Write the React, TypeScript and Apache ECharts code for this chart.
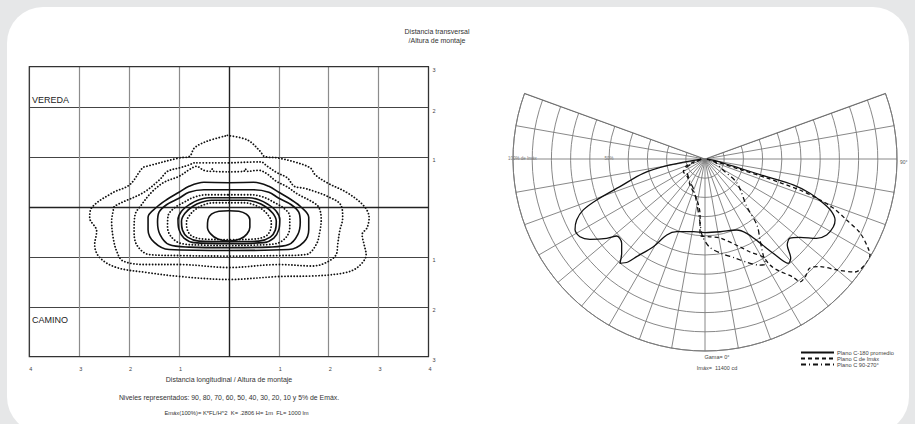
import React, { useEffect, useRef } from "react";
import * as echarts from "echarts";

// ---------- Isolux diagram data (x, y in units of mounting height) ----------
const xTickLabels = ["4", "3", "2", "1", "", "1", "2", "3", "4"];
const yTickValues = [-3, -2, -1, 0, 1, 2, 2.82];
const yTickLabels = ["3", "2", "1", "", "1", "2", "3"];

const c05 = [[-0.03,1.44],[0.37,1.35],[0.63,1.12],[0.71,1.02],[0.97,0.99],[1.31,0.91],[1.63,0.79],[1.73,0.65],[1.97,0.49],[2.37,0.29],[2.71,0.02],[2.81,-0.21],[2.77,-0.41],[2.67,-0.55],[2.71,-0.75],[2.75,-0.95],[2.61,-1.18],[2.35,-1.31],[1.67,-1.38],[1.01,-1.39],[0.01,-1.45],[-0.99,-1.39],[-1.65,-1.31],[-2.25,-1.21],[-2.59,-1.01],[-2.69,-0.75],[-2.65,-0.48],[-2.79,-0.21],[-2.75,-0.01],[-2.33,0.29],[-1.99,0.45],[-1.73,0.79],[-1.65,0.82],[-0.99,0.99],[-0.79,1.02],[-0.69,1.19],[-0.45,1.32],[-0.03,1.44]];
const c10 = [[0,0.89],[0.64,0.91],[0.77,0.82],[0.97,0.69],[1.17,0.59],[1.31,0.42],[1.51,0.38],[1.71,0.32],[1.97,0.22],[2.24,0.05],[2.28,-0.21],[2.22,-0.48],[2.18,-0.75],[2.15,-0.95],[1.95,-1.11],[1.68,-1.18],[1.01,-1.15],[0.01,-1.21],[-0.99,-1.15],[-1.65,-1.15],[-2.12,-1.08],[-2.25,-0.88],[-2.32,-0.61],[-2.35,-0.28],[-2.32,-0.08],[-2.29,0.02],[-1.72,0.29],[-1.39,0.55],[-1.23,0.72],[-0.99,0.79],[-0.79,0.85],[-0.69,0.89],[0,0.89]];
const c20 = [[0,0.71],[0.3,0.72],[0.33,0.77],[0.36,0.72],[0.6,0.74],[0.75,0.68],[0.95,0.52],[1.15,0.42],[1.4,0.25],[1.65,0.12],[1.8,0.0],[1.85,-0.25],[1.82,-0.5],[1.75,-0.75],[1.55,-0.95],[1.0,-0.97],[0,-0.98],[-1.0,-0.97],[-1.6,-0.95],[-1.85,-0.75],[-1.9,-0.45],[-1.88,-0.15],[-1.75,0.05],[-1.55,0.3],[-1.3,0.5],[-1.0,0.62],[-0.8,0.75],[-0.65,0.82],[-0.5,0.74],[-0.36,0.72],[-0.33,0.77],[-0.3,0.72],[0,0.71]];
const c30 = [[0,0.49],[0.5,0.5],[0.8,0.42],[1.0,0.3],[1.25,0.15],[1.45,0.0],[1.6,-0.2],[1.6,-0.45],[1.5,-0.7],[1.2,-0.85],[0,-0.87],[-1.2,-0.85],[-1.5,-0.7],[-1.62,-0.45],[-1.62,-0.2],[-1.45,0.0],[-1.25,0.15],[-1.0,0.3],[-0.8,0.42],[-0.5,0.5],[0,0.49]];
const c40 = [[0,0.35],[0.5,0.35],[0.8,0.3],[1.0,0.18],[1.25,0.05],[1.4,-0.1],[1.43,-0.3],[1.38,-0.55],[1.2,-0.75],[0.8,-0.8],[0,-0.81],[-0.8,-0.8],[-1.2,-0.75],[-1.38,-0.55],[-1.43,-0.3],[-1.4,-0.1],[-1.25,0.05],[-1.0,0.18],[-0.8,0.3],[-0.5,0.35],[0,0.35]];
const c50 = [[0,0.25],[0.45,0.25],[0.7,0.2],[0.9,0.1],[1.1,-0.02],[1.22,-0.18],[1.22,-0.4],[1.15,-0.6],[0.95,-0.73],[0.5,-0.76],[0,-0.77],[-0.5,-0.76],[-0.95,-0.73],[-1.15,-0.6],[-1.23,-0.4],[-1.22,-0.18],[-1.1,-0.02],[-0.9,0.1],[-0.7,0.2],[-0.45,0.25],[0,0.25]];
const c60 = [[0,0.19],[0.4,0.19],[0.6,0.15],[0.78,0.06],[0.95,-0.08],[1.02,-0.25],[1.0,-0.45],[0.9,-0.62],[0.7,-0.71],[0,-0.73],[-0.7,-0.71],[-0.9,-0.62],[-1.0,-0.45],[-1.02,-0.25],[-0.95,-0.08],[-0.78,0.06],[-0.6,0.15],[-0.4,0.19],[0,0.19]];
const c70 = [[0,0.14],[0.35,0.14],[0.55,0.1],[0.72,0.02],[0.88,-0.12],[0.95,-0.28],[0.93,-0.46],[0.83,-0.6],[0.6,-0.68],[0,-0.69],[-0.6,-0.68],[-0.83,-0.6],[-0.93,-0.46],[-0.95,-0.28],[-0.88,-0.12],[-0.72,0.02],[-0.55,0.1],[-0.35,0.14],[0,0.14]];
const c80 = [[0,0.09],[0.3,0.09],[0.5,0.05],[0.65,-0.03],[0.78,-0.15],[0.85,-0.3],[0.83,-0.46],[0.74,-0.58],[0.5,-0.64],[0,-0.65],[-0.5,-0.64],[-0.74,-0.58],[-0.83,-0.46],[-0.85,-0.3],[-0.78,-0.15],[-0.65,-0.03],[-0.5,0.05],[-0.3,0.09],[0,0.09]];
const c90 = [[0,-0.07],[0.2,-0.08],[0.35,-0.14],[0.42,-0.25],[0.42,-0.4],[0.36,-0.54],[0.22,-0.64],[0,-0.68],[-0.22,-0.64],[-0.36,-0.54],[-0.43,-0.4],[-0.42,-0.25],[-0.35,-0.14],[-0.2,-0.08],[0,-0.07]];

const contourLevels = ["5%", "10%", "20%", "30%", "40%", "50%", "60%", "70%", "80%", "90%"];
const contourData = [c05, c10, c20, c30, c40, c50, c60, c70, c80, c90];
const contourDotted = [true, true, true, false, false, true, false, false, true, false];

// ---------- Polar diagram data: [gamma (deg), intensity (% of Imax)] ----------
const gammaLimits = [-110, 110];
const planoC180 = [[-88,2],[-80.3,18.5],[-76.9,33.0],[-72,46.6],[-69.3,60.3],[-67.3,68.7],[-64.6,74.0],[-61.4,77.1],[-58.1,76.7],[-55.1,73.1],[-51.1,65.8],[-48.9,61.0],[-44.7,61.7],[-41.5,65.5],[-39.2,70.1],[-36.8,67.0],[-35,62.1],[-30.5,53.0],[-26.7,44.3],[-21.3,40.6],[-9.1,38.3],[0,38.3],[11.7,38.7],[24.1,40.5],[29.3,44.4],[32.8,51.2],[35.9,60.6],[38.6,69.5],[40.9,68.2],[43.7,62.0],[47,60.5],[50.5,64.1],[54.6,71.3],[58,74.7],[62.2,75.6],[64.9,74.8],[67.4,71.5],[69.5,65.8],[71.9,57.5],[73.6,47.9],[74,33.4],[75.1,18.9],[80,6.2],[88,1]];
const planoCImax = [[-88,2],[-70,10],[-60,13],[-45,13],[-30,15.6],[-11,21.8],[-5,29.3],[-3.8,39.7],[3.7,40.6],[10.8,41.9],[21.7,49.3],[25.8,53.8],[30.6,59.3],[31.5,64.8],[33,68.9],[36.7,76.7],[37.7,80.9],[40.3,80.6],[43.9,78.8],[46.9,82],[49.9,89.7],[53,97.8],[57,100],[59.8,99.4],[61.4,96.7],[64.5,89.5],[66.7,80.3],[69.1,71.5],[70.7,61.6],[71.9,52],[72.9,33.6],[73.5,19],[76,6],[85,1]];
const planoC90 = [[-85,2],[-62,12],[-50,12],[-35,14],[-20,17],[-10,24],[-5,32],[-2,40],[3,46],[10,50],[17,54],[22,58],[27,62],[30,63],[31.5,57.5],[34.2,51],[38.2,43.8],[41.2,33.2],[53.1,20.8],[58.6,11],[75,5],[88,1]];

const polarNames = ["Plano C-180 promedio", "Plano C de Imáx", "Plano C 90-270°"];

export default function App() {
  const ref = useRef<HTMLDivElement>(null);
  useEffect(() => {
    if (!ref.current) return;
    const chart = echarts.init(ref.current, null, { renderer: "svg" });
    const font = "Liberation Sans, Arial, sans-serif";
    const txt = (x: number, y: number, text: string, size: number, align = "center", color = "#333") => ({
      type: "text",
      x,
      y,
      style: { text, fontSize: size, fontFamily: font, fill: color, align, verticalAlign: "middle" },
      silent: true,
    });

    const contourSeries = contourData.map((d, i) => ({
      type: "line",
      name: "Iso " + contourLevels[i],
      xAxisIndex: 0,
      yAxisIndex: 0,
      data: d,
      symbol: "none",
      smooth: 0.35,
      silent: true,
      color: "#111",
      lineStyle: contourDotted[i]
        ? { color: "#111", width: 1.8, type: [0.1, 3], cap: "round" }
        : { color: "#111", width: 1.6, type: "solid" },
      z: 5,
    }));

    const polarStyles = [
      { color: "#111", width: 1.3, type: "solid" },
      { color: "#111", width: 1.3, type: [4, 3] },
      { color: "#111", width: 1.3, type: [5, 3, 1, 3] },
    ];
    const polarSeries = [planoC180, planoCImax, planoC90].map((d, i) => ({
      type: "line",
      name: polarNames[i],
      coordinateSystem: "polar",
      polarIndex: 0,
      data: d.map((p) => [p[1], p[0]]),
      symbol: "none",
      smooth: 0.3,
      silent: true,
      color: "#111",
      itemStyle: { color: "#111" },
      lineStyle: polarStyles[i],
      z: 5,
    }));

    const boundarySeries = gammaLimits.map((g) => ({
      type: "line",
      name: "limite " + g,
      coordinateSystem: "polar",
      polarIndex: 0,
      data: [[0, g], [100, g]],
      symbol: "none",
      silent: true,
      color: "#666",
      lineStyle: { color: "#666", width: 1.3 },
      z: 3,
    }));

    chart.setOption({
      animation: false,
      backgroundColor: "#e6e7e8",
      textStyle: { fontFamily: font },
      grid: {
        left: 29.3,
        top: 66.7,
        width: 399.2,
        height: 290,
        show: true,
        borderColor: "#333",
        borderWidth: 1.2,
        backgroundColor: "transparent",
        z: 3,
      },
      xAxis: {
        type: "value",
        min: -4,
        max: 4,
        interval: 1,
        axisLine: { show: false },
        axisTick: { show: false },
        splitLine: { show: true, lineStyle: { color: "#8c8c8c", width: 1.2 } },
        axisLabel: {
          show: true,
          showMinLabel: true,
          showMaxLabel: true,
          formatter: (v: number) => xTickLabels[Math.round(v) + 4],
          fontSize: 5.5,
          color: "#444",
          align: "left",
          margin: 9,
        },
      },
      yAxis: {
        type: "value",
        position: "right",
        min: -3,
        max: 2.82,
        interval: 1,
        axisLine: { show: false },
        axisTick: { show: false },
        splitLine: { show: true, lineStyle: { color: "#444", width: 1.2 } },
        axisLabel: {
          show: true,
          showMinLabel: true,
          showMaxLabel: true,
          formatter: (v: number) => {
            let best = 0;
            yTickValues.forEach((t, i) => {
              if (Math.abs(t - v) < Math.abs(yTickValues[best] - v)) best = i;
            });
            return yTickLabels[best];
          },
          fontSize: 5.5,
          color: "#444",
          verticalAlign: "top",
          align: "left",
          margin: 4,
        },
      },
      polar: { center: [705, 159], radius: [0, 192] },
      angleAxis: {
        type: "value",
        min: gammaLimits[0],
        max: gammaLimits[1],
        interval: 10,
        startAngle: 160,
        endAngle: 380,
        clockwise: false,
        axisLine: { show: true, lineStyle: { color: "#7a7a7a", width: 1 } },
        axisTick: { show: false },
        axisLabel: { show: false },
        splitLine: { show: true, lineStyle: { color: "#7a7a7a", width: 0.9 } },
      },
      radiusAxis: {
        type: "value",
        min: 0,
        max: 100,
        interval: 10,
        axisLine: { show: false },
        axisTick: { show: false },
        axisLabel: { show: false },
        splitLine: { show: true, lineStyle: { color: "#7a7a7a", width: 0.9 } },
      },
      legend: {
        data: polarNames,
        orient: "vertical",
        left: 800,
        top: 349.5,
        itemWidth: 33,
        itemHeight: 4,
        itemGap: 0,
        padding: 0,
        selectedMode: false,
        itemStyle: { opacity: 0 },
        textStyle: { fontSize: 5.7, color: "#444", lineHeight: 6, padding: [0, 0, 0, -2] },
      },
      graphic: [
        {
          type: "rect",
          shape: { x: 7, y: 7, width: 902, height: 426, r: 36 },
          style: { fill: "#ffffff" },
          z: -10,
          silent: true,
        },
        txt(437, 31, "Distancia transversal", 7),
        txt(437, 40.5, "/Altura de montaje", 7),
        txt(32, 100, "VEREDA", 9, "left", "#222"),
        txt(32, 320, "CAMINO", 9, "left", "#222"),
        txt(229, 379, "Distancia longitudinal / Altura de montaje", 7),
        txt(229, 397, "Niveles representados: 90, 80, 70, 60, 50, 40, 30, 20, 10 y 5% de Emáx.", 6.9),
        txt(236.5, 413, "Emáx(100%)= K*FL/H^2  K= .2806 H= 1m  FL= 1000 lm", 5.8),
        txt(508, 158.5, "100% de Imáx", 4.5, "left", "#777"),
        txt(609, 158.5, "50%", 4.5, "center", "#777"),
        txt(900, 162, "90°", 5, "left", "#555"),
        txt(717, 356.5, "Gama= 0°", 5.5, "center", "#444"),
        txt(717, 367.5, "Imáx=  11400 cd", 5.5, "center", "#444"),
      ],
      series: [
        ...contourSeries,
        {
          type: "line",
          name: "ejes",
          data: [],
          silent: true,
          markLine: {
            silent: true,
            symbol: "none",
            label: { show: false },
            lineStyle: { color: "#222", width: 1.3, type: "solid" },
            data: [{ xAxis: 0 }, { yAxis: 0 }],
          },
          z: 4,
        },
        ...boundarySeries,
        ...polarSeries,
      ],
    });
    return () => chart.dispose();
  }, []);
  return (
    <div
      ref={ref}
      style={{ position: "fixed", left: 0, top: 0, width: 915, height: 424 }}
    />
  );
}
